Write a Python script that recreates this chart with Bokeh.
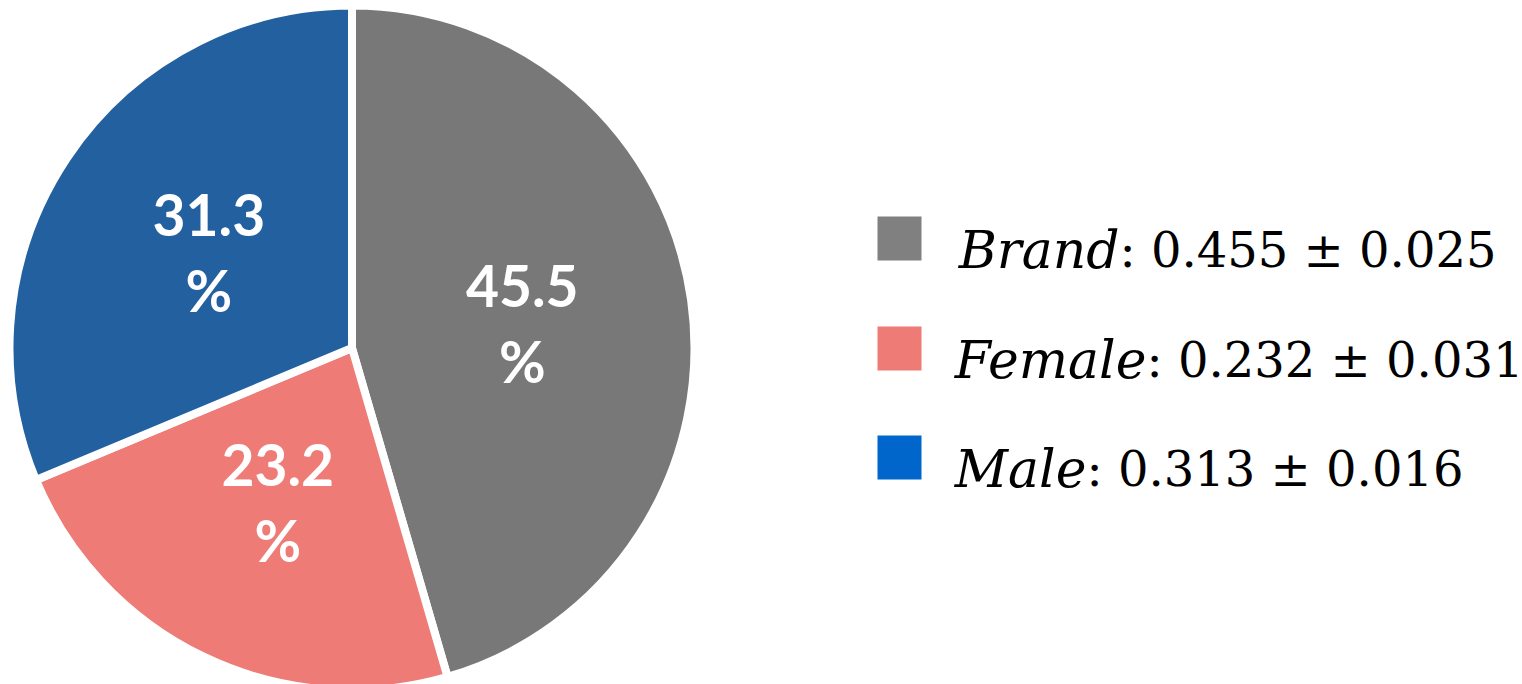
import math
from bokeh.plotting import figure
from bokeh.models import Range1d, ColumnDataSource
from bokeh.core.properties import value
from bokeh.embed import file_html
from bokeh.resources import INLINE

# ---- data ----
categories = ["Brand", "Female", "Male"]
shares = [0.455, 0.232, 0.313]
errors = [0.025, 0.031, 0.016]
pct_labels = ["45.5", "23.2", "31.3"]
pie_colors = ["#787878", "#EE7B76", "#2360A0"]
legend_colors = ["#808080", "#EE7B76", "#0066CC"]

# ---- layout (pixel based, y measured from top) ----
W, H = 1522, 684
cx, cy_px = 351.5, 347.5
R_visible = 338.5
gap = 8
label_r = 172
text_shift = 20  # compensation for the renderer's baseline placement

def ydata(py):
    return H - py

p = figure(width=W, height=H, output_backend="svg", toolbar_location=None,
           x_range=Range1d(0, W), y_range=Range1d(0, H),
           x_axis_type=None, y_axis_type=None, min_border=0,
           min_border_left=0, min_border_right=0, min_border_top=0, min_border_bottom=0)
p.outline_line_color = None
p.grid.visible = False
p.background_fill_color = "white"

# wedge angles, clockwise from 12 o'clock
starts, ends, mids = [], [], []
cum = 0.0
for s in shares:
    a0 = math.pi / 2 - 2 * math.pi * cum
    a1 = math.pi / 2 - 2 * math.pi * (cum + s)
    starts.append(a0)
    ends.append(a1)
    mids.append((a0 + a1) / 2)
    cum += s

cy = ydata(cy_px)
pie_src = ColumnDataSource(dict(start=starts, end=ends, color=pie_colors))
p.wedge(x=cx, y=cy, radius=R_visible + gap / 2, start_angle="start", end_angle="end",
        direction="clock", fill_color="color", line_color="white", line_width=gap,
        source=pie_src)

# slice labels
lx = [cx + label_r * math.cos(m) for m in mids]
ly = [cy + label_r * math.sin(m) for m in mids]
lab_src = ColumnDataSource(dict(x=lx,
                                y_num=[v + 18 + text_shift for v in ly],
                                y_pct=[v - 57 + text_shift for v in ly],
                                num=pct_labels, pct=["%"] * len(pct_labels)))
for col in ("num", "pct"):
    p.text(x="x", y="y_" + col, text=col, source=lab_src, text_color="white",
           text_font=value("Lato"), text_font_style="bold", text_font_size=value("57px"),
           text_align="center", text_baseline="alphabetic")

# legend
sq_center_px = [238, 348, 457]
colon_x = [1119, 1146, 1086]
sq_x = 899
sq_size = 44
leg_src = ColumnDataSource(dict(
    sx=[sq_x] * 3,
    sy=[ydata(v) for v in sq_center_px],
    ty=[ydata(v + 31 - text_shift) for v in sq_center_px],
    cx=colon_x,
    color=legend_colors,
    name=categories,
    suffix=[f": {s:.3f} \u00b1 {e:.3f}" for s, e in zip(shares, errors)],
))
p.rect(x="sx", y="sy", width=sq_size, height=sq_size, fill_color="color",
       line_color=None, source=leg_src)
p.text(x="cx", y="ty", text="name", source=leg_src, text_color="black",
       text_font=value("DejaVu Serif"), text_font_style="italic",
       text_font_size=value("52px"), text_align="right", text_baseline="alphabetic")
p.text(x="cx", y="ty", text="suffix", source=leg_src, text_color="black",
       text_font=value("DejaVu Serif"), text_font_size=value("48px"),
       text_align="left", text_baseline="alphabetic")

open("out.html", "w").write(file_html(p, INLINE))
